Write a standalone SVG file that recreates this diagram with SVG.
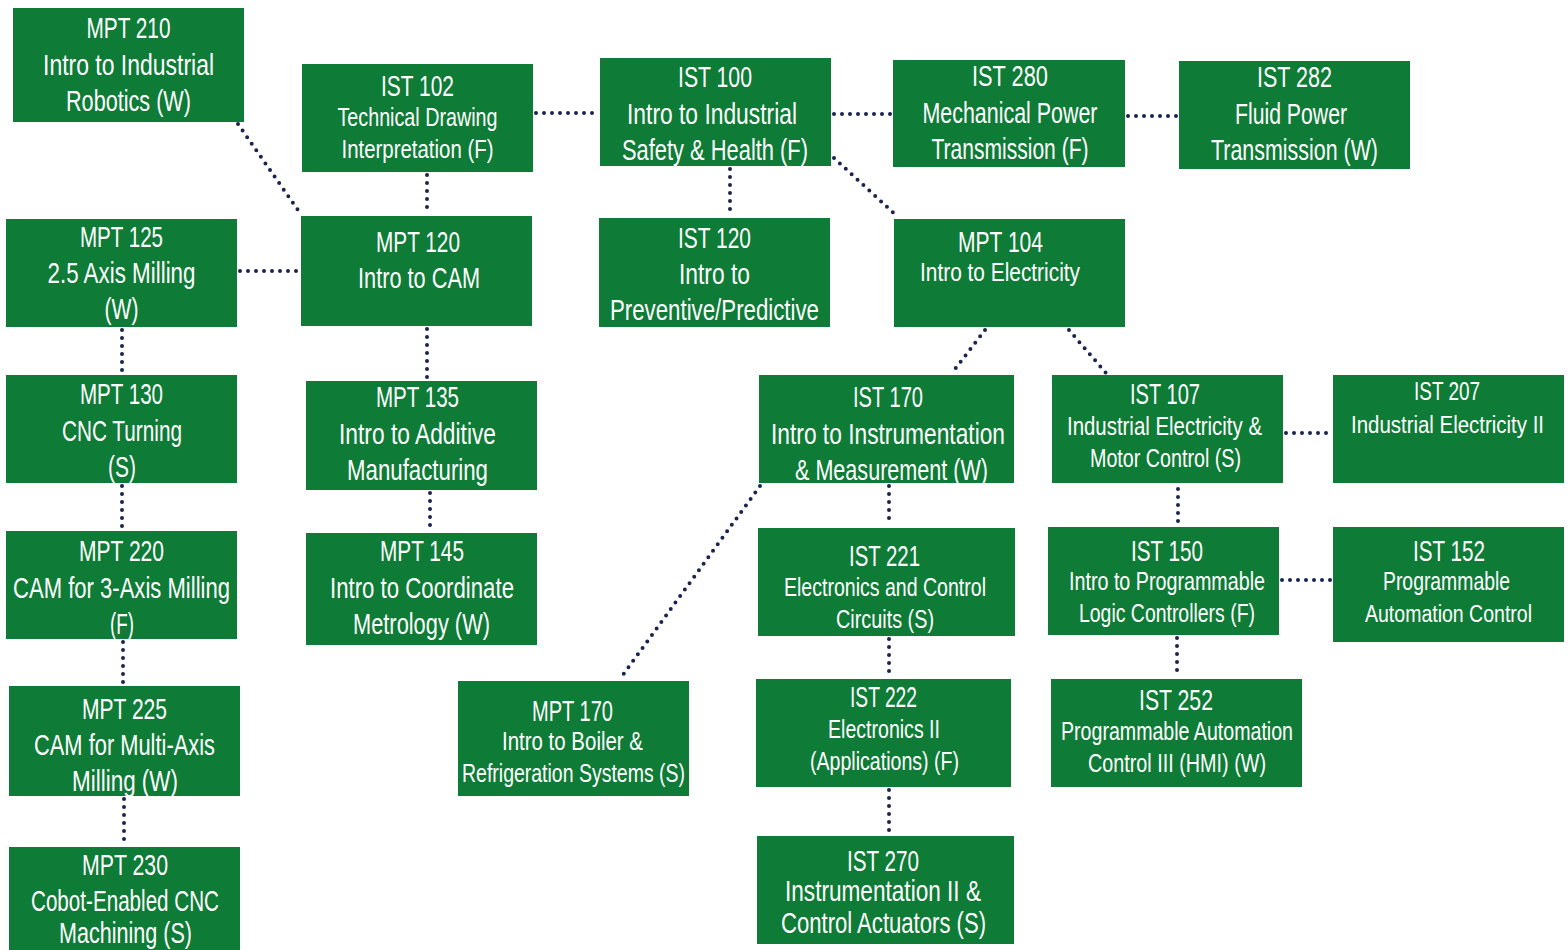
<svg xmlns="http://www.w3.org/2000/svg" width="1568" height="950" viewBox="0 0 1568 950">
<style>
.box{fill:#0e7b36}
text{fill:#ffffff;font-family:"Liberation Sans Narrow","Liberation Sans",Arial,sans-serif;text-anchor:middle}
.b{font-size:29px}
.s{font-size:25px}
.t{font-size:23px}
.c{fill:none;stroke:#1b2350;stroke-width:4;stroke-linecap:round;stroke-dasharray:0 8}
</style>
<rect width="1568" height="950" fill="#ffffff"/>
<g id="connectors">
<line class="c" x1="238" y1="124" x2="300" y2="213"/>
<line class="c" x1="536" y1="113" x2="598" y2="113"/>
<line class="c" x1="834" y1="114" x2="892" y2="114"/>
<line class="c" x1="1128" y1="116" x2="1177" y2="116"/>
<line class="c" x1="427" y1="175" x2="427" y2="214"/>
<line class="c" x1="730" y1="169" x2="730" y2="216"/>
<line class="c" x1="834" y1="158" x2="898" y2="217"/>
<line class="c" x1="240" y1="271" x2="299" y2="271"/>
<line class="c" x1="122" y1="330" x2="122" y2="373"/>
<line class="c" x1="427" y1="329" x2="427" y2="379"/>
<line class="c" x1="985" y1="330" x2="952" y2="373"/>
<line class="c" x1="1069" y1="330" x2="1106" y2="373"/>
<line class="c" x1="122" y1="486" x2="122" y2="529"/>
<line class="c" x1="430" y1="493" x2="430" y2="531"/>
<line class="c" x1="760" y1="486" x2="620" y2="679"/>
<line class="c" x1="889" y1="486" x2="889" y2="526"/>
<line class="c" x1="1286" y1="433" x2="1331" y2="433"/>
<line class="c" x1="1178" y1="489" x2="1178" y2="525"/>
<line class="c" x1="1282" y1="580" x2="1331" y2="580"/>
<line class="c" x1="123" y1="642" x2="123" y2="684"/>
<line class="c" x1="889" y1="639" x2="889" y2="677"/>
<line class="c" x1="1177" y1="638" x2="1177" y2="677"/>
<line class="c" x1="889" y1="790" x2="889" y2="834"/>
<line class="c" x1="124" y1="799" x2="124" y2="845"/>
</g>
<g id="mpt210"><rect class="box" x="13" y="8" width="231" height="114"/>
<text class="b" x="128.5" y="38" textLength="84" lengthAdjust="spacingAndGlyphs">MPT 210</text>
<text class="b" x="128.5" y="75" textLength="171" lengthAdjust="spacingAndGlyphs">Intro to Industrial</text>
<text class="b" x="128.5" y="111" textLength="125" lengthAdjust="spacingAndGlyphs">Robotics (W)</text></g>
<g id="ist102"><rect class="box" x="302" y="64" width="231" height="108"/>
<text class="b" x="417.5" y="96" textLength="73" lengthAdjust="spacingAndGlyphs">IST 102</text>
<text class="s" x="417.5" y="126" textLength="160" lengthAdjust="spacingAndGlyphs">Technical Drawing</text>
<text class="s" x="417.5" y="158" textLength="152" lengthAdjust="spacingAndGlyphs">Interpretation (F)</text></g>
<g id="ist100"><rect class="box" x="600" y="58" width="231" height="108"/>
<text class="b" x="715" y="87" textLength="74" lengthAdjust="spacingAndGlyphs">IST 100</text>
<text class="b" x="712" y="124" textLength="170" lengthAdjust="spacingAndGlyphs">Intro to Industrial</text>
<text class="b" x="715" y="160" textLength="186" lengthAdjust="spacingAndGlyphs">Safety &amp; Health (F)</text></g>
<g id="ist280"><rect class="box" x="893" y="60" width="232" height="107"/>
<text class="b" x="1010" y="86" textLength="76" lengthAdjust="spacingAndGlyphs">IST 280</text>
<text class="b" x="1010" y="123" textLength="175" lengthAdjust="spacingAndGlyphs">Mechanical Power</text>
<text class="b" x="1010" y="159" textLength="157" lengthAdjust="spacingAndGlyphs">Transmission (F)</text></g>
<g id="ist282"><rect class="box" x="1179" y="61" width="231" height="108"/>
<text class="b" x="1294.5" y="87" textLength="75" lengthAdjust="spacingAndGlyphs">IST 282</text>
<text class="b" x="1291" y="124" textLength="112" lengthAdjust="spacingAndGlyphs">Fluid Power</text>
<text class="b" x="1294.5" y="160" textLength="167" lengthAdjust="spacingAndGlyphs">Transmission (W)</text></g>
<g id="mpt125"><rect class="box" x="6" y="219" width="231" height="108"/>
<text class="b" x="121.5" y="247" textLength="83" lengthAdjust="spacingAndGlyphs">MPT 125</text>
<text class="b" x="121.5" y="283" textLength="148" lengthAdjust="spacingAndGlyphs">2.5 Axis Milling</text>
<text class="b" x="121.5" y="319" textLength="34" lengthAdjust="spacingAndGlyphs">(W)</text></g>
<g id="mpt120"><rect class="box" x="301" y="216" width="231" height="110"/>
<text class="b" x="418" y="252" textLength="84" lengthAdjust="spacingAndGlyphs">MPT 120</text>
<text class="b" x="419" y="288" textLength="122" lengthAdjust="spacingAndGlyphs">Intro to CAM</text></g>
<g id="ist120"><rect class="box" x="599" y="218" width="231" height="109"/>
<text class="b" x="714.5" y="248" textLength="73" lengthAdjust="spacingAndGlyphs">IST 120</text>
<text class="b" x="714.5" y="284" textLength="71" lengthAdjust="spacingAndGlyphs">Intro to</text>
<text class="b" x="714.5" y="320" textLength="209" lengthAdjust="spacingAndGlyphs">Preventive/Predictive</text></g>
<g id="mpt104"><rect class="box" x="894" y="219" width="231" height="108"/>
<text class="b" x="1000.5" y="252" textLength="85" lengthAdjust="spacingAndGlyphs">MPT 104</text>
<text class="s" x="1000" y="281" textLength="160" lengthAdjust="spacingAndGlyphs">Intro to Electricity</text></g>
<g id="mpt130"><rect class="box" x="6" y="375" width="231" height="108"/>
<text class="b" x="121.5" y="404" textLength="83" lengthAdjust="spacingAndGlyphs">MPT 130</text>
<text class="b" x="122" y="441" textLength="120" lengthAdjust="spacingAndGlyphs">CNC Turning</text>
<text class="b" x="122" y="477" textLength="28" lengthAdjust="spacingAndGlyphs">(S)</text></g>
<g id="mpt135"><rect class="box" x="306" y="381" width="231" height="109"/>
<text class="b" x="417.5" y="407" textLength="83" lengthAdjust="spacingAndGlyphs">MPT 135</text>
<text class="b" x="417.5" y="444" textLength="157" lengthAdjust="spacingAndGlyphs">Intro to Additive</text>
<text class="b" x="417.5" y="480" textLength="141" lengthAdjust="spacingAndGlyphs">Manufacturing</text></g>
<g id="ist170"><rect class="box" x="759" y="375" width="255" height="108"/>
<text class="b" x="888" y="407" textLength="70" lengthAdjust="spacingAndGlyphs">IST 170</text>
<text class="b" x="888" y="444" textLength="234" lengthAdjust="spacingAndGlyphs">Intro to Instrumentation</text>
<text class="b" x="891.5" y="480" textLength="193" lengthAdjust="spacingAndGlyphs">&amp; Measurement (W)</text></g>
<g id="ist107"><rect class="box" x="1052" y="375" width="231" height="108"/>
<text class="b" x="1165" y="404" textLength="70" lengthAdjust="spacingAndGlyphs">IST 107</text>
<text class="s" x="1164.5" y="435" textLength="195" lengthAdjust="spacingAndGlyphs">Industrial Electricity &amp;</text>
<text class="s" x="1165.5" y="467" textLength="151" lengthAdjust="spacingAndGlyphs">Motor Control (S)</text></g>
<g id="ist207"><rect class="box" x="1333" y="375" width="231" height="108"/>
<text class="s" x="1447" y="400" textLength="66" lengthAdjust="spacingAndGlyphs">IST 207</text>
<text class="t" x="1447.5" y="433" textLength="193" lengthAdjust="spacingAndGlyphs">Industrial Electricity II</text></g>
<g id="mpt220"><rect class="box" x="6" y="531" width="231" height="108"/>
<text class="b" x="121.5" y="561" textLength="85" lengthAdjust="spacingAndGlyphs">MPT 220</text>
<text class="b" x="121.5" y="598" textLength="217" lengthAdjust="spacingAndGlyphs">CAM for 3-Axis Milling</text>
<text class="b" x="122" y="634" textLength="24" lengthAdjust="spacingAndGlyphs">(F)</text></g>
<g id="mpt145"><rect class="box" x="306" y="533" width="231" height="112"/>
<text class="b" x="422" y="561" textLength="84" lengthAdjust="spacingAndGlyphs">MPT 145</text>
<text class="b" x="422" y="598" textLength="184" lengthAdjust="spacingAndGlyphs">Intro to Coordinate</text>
<text class="b" x="421.5" y="634" textLength="137" lengthAdjust="spacingAndGlyphs">Metrology (W)</text></g>
<g id="ist221"><rect class="box" x="758" y="528" width="257" height="108"/>
<text class="b" x="884.5" y="566" textLength="71" lengthAdjust="spacingAndGlyphs">IST 221</text>
<text class="s" x="885" y="596" textLength="202" lengthAdjust="spacingAndGlyphs">Electronics and Control</text>
<text class="s" x="885" y="628" textLength="98" lengthAdjust="spacingAndGlyphs">Circuits (S)</text></g>
<g id="ist150"><rect class="box" x="1048" y="527" width="231" height="108"/>
<text class="b" x="1167" y="561" textLength="72" lengthAdjust="spacingAndGlyphs">IST 150</text>
<text class="s" x="1167" y="590" textLength="196" lengthAdjust="spacingAndGlyphs">Intro to Programmable</text>
<text class="s" x="1167" y="622" textLength="176" lengthAdjust="spacingAndGlyphs">Logic Controllers (F)</text></g>
<g id="ist152"><rect class="box" x="1333" y="527" width="231" height="115"/>
<text class="b" x="1449" y="561" textLength="72" lengthAdjust="spacingAndGlyphs">IST 152</text>
<text class="s" x="1446.5" y="590" textLength="127" lengthAdjust="spacingAndGlyphs">Programmable</text>
<text class="t" x="1448.5" y="622" textLength="167" lengthAdjust="spacingAndGlyphs">Automation Control</text></g>
<g id="mpt225"><rect class="box" x="9" y="686" width="231" height="110"/>
<text class="b" x="124.5" y="719" textLength="85" lengthAdjust="spacingAndGlyphs">MPT 225</text>
<text class="b" x="124.5" y="755" textLength="181" lengthAdjust="spacingAndGlyphs">CAM for Multi-Axis</text>
<text class="b" x="125" y="791" textLength="106" lengthAdjust="spacingAndGlyphs">Milling (W)</text></g>
<g id="mpt170"><rect class="box" x="458" y="681" width="231" height="115"/>
<text class="b" x="572.5" y="721" textLength="81" lengthAdjust="spacingAndGlyphs">MPT 170</text>
<text class="s" x="572.5" y="750" textLength="141" lengthAdjust="spacingAndGlyphs">Intro to Boiler &amp;</text>
<text class="s" x="573.5" y="782" textLength="223" lengthAdjust="spacingAndGlyphs">Refrigeration Systems (S)</text></g>
<g id="ist222"><rect class="box" x="756" y="679" width="255" height="108"/>
<text class="b" x="883.5" y="707" textLength="67" lengthAdjust="spacingAndGlyphs">IST 222</text>
<text class="s" x="884" y="738" textLength="112" lengthAdjust="spacingAndGlyphs">Electronics II</text>
<text class="s" x="884.5" y="770" textLength="149" lengthAdjust="spacingAndGlyphs">(Applications) (F)</text></g>
<g id="ist252"><rect class="box" x="1051" y="679" width="251" height="108"/>
<text class="b" x="1176" y="710" textLength="74" lengthAdjust="spacingAndGlyphs">IST 252</text>
<text class="s" x="1177" y="740" textLength="232" lengthAdjust="spacingAndGlyphs">Programmable Automation</text>
<text class="s" x="1177" y="772" textLength="178" lengthAdjust="spacingAndGlyphs">Control III (HMI) (W)</text></g>
<g id="mpt230"><rect class="box" x="9" y="847" width="231" height="103"/>
<text class="b" x="125" y="875" textLength="86" lengthAdjust="spacingAndGlyphs">MPT 230</text>
<text class="b" x="125" y="911" textLength="188" lengthAdjust="spacingAndGlyphs">Cobot-Enabled CNC</text>
<text class="b" x="125.5" y="943" textLength="133" lengthAdjust="spacingAndGlyphs">Machining (S)</text></g>
<g id="ist270"><rect class="box" x="757" y="836" width="257" height="108"/>
<text class="b" x="883" y="871" textLength="72" lengthAdjust="spacingAndGlyphs">IST 270</text>
<text class="b" x="883" y="901" textLength="196" lengthAdjust="spacingAndGlyphs">Instrumentation II &amp;</text>
<text class="b" x="883.5" y="933" textLength="205" lengthAdjust="spacingAndGlyphs">Control Actuators (S)</text></g>
</svg>
